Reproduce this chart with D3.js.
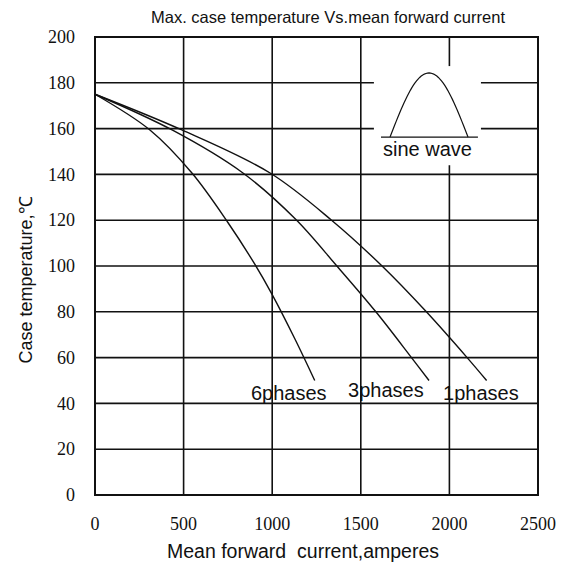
<!DOCTYPE html>
<html lang="en">
<head>
    <meta charset="UTF-8">
    <title>Max. case temperature Vs.mean forward current</title>
    <script src="https://d3js.org/d3.v7.min.js"></script>
    <style>
        body { margin: 0; background: #fff; }
        text { white-space: pre; }
    </style>
</head>
<body>
<script>
    // axis ticks
    var xTicks = [0, 500, 1000, 1500, 2000, 2500];
    var yTicks = [0, 20, 40, 60, 80, 100, 120, 140, 160, 180, 200];

    // curves: [current A, case temperature C]
    var phase6 = [[0, 175], [310, 159.4], [547, 140.6], [750, 119], [900, 101], [1000, 87.5], [1129, 68], [1240, 50]];
    var phase3 = [[0, 175], [435, 159.4], [835, 140.6], [1131, 120.5], [1365, 100], [1585, 80], [1786, 60], [1885, 50]];
    var phase1 = [[0, 175], [490, 159.4], [988, 140.6], [1335, 120], [1620, 100], [1870, 80], [2100, 60], [2210, 50]];
    var curveNames = ['6phases', '3phases', '1phases'];
    // label anchor points [current, temperature]
    var labelPos = [[880, 41.5], [1428, 42.8], [1964, 41.5]];

    var width = 563, height = 562;
    var margin = {top: 37, right: 25, bottom: 67, left: 95};

    var svg = d3.select('body').append('svg').attr('width', width).attr('height', height);

    var x = d3.scaleLinear().domain([0, 2500]).range([margin.left, width - margin.right]);
    var y = d3.scaleLinear().domain([0, 200]).range([height - margin.bottom, margin.top]);

    var ink = '#111';

    // grid
    svg.append('g').selectAll('line').data(yTicks.slice(1, -1)).enter().append('line')
        .attr('x1', x(0)).attr('x2', x(2500))
        .attr('y1', d => y(d)).attr('y2', d => y(d))
        .attr('stroke', ink).attr('stroke-width', 1.6);
    svg.append('g').selectAll('line').data(xTicks.slice(1, -1)).enter().append('line')
        .attr('y1', y(0)).attr('y2', y(200))
        .attr('x1', d => x(d)).attr('x2', d => x(d))
        .attr('stroke', ink).attr('stroke-width', 1.6);

    // sine wave inset, drawn over the grid
    var inset = svg.append('g');
    inset.append('rect')
        .attr('x', x(1574)).attr('y', y(187.3))
        .attr('width', x(2178) - x(1574)).attr('height', y(144) - y(187.3))
        .attr('fill', '#fff');
    inset.append('line')
        .attr('x1', x(1614)).attr('x2', x(2161))
        .attr('y1', y(156.3)).attr('y2', y(156.3))
        .attr('stroke', ink).attr('stroke-width', 1.2);
    var wave = d3.range(0, 1.0001, 0.02).map(t => [1665 + t * (2105 - 1665), 156.3 + 28 * Math.sin(Math.PI * t)]);
    inset.append('path')
        .attr('d', d3.line().x(d => x(d[0])).y(d => y(d[1]))(wave))
        .attr('fill', 'none').attr('stroke', ink).attr('stroke-width', 1.2);
    inset.append('text')
        .attr('x', x(1625)).attr('y', y(148))
        .attr('font-family', 'Arial, "Liberation Sans", sans-serif')
        .attr('font-size', '20px').attr('fill', ink)
        .text('sine wave');

    // plot frame
    svg.append('rect')
        .attr('x', x(0)).attr('y', y(200))
        .attr('width', x(2500) - x(0)).attr('height', y(0) - y(200))
        .attr('fill', 'none').attr('stroke', ink).attr('stroke-width', 2);

    // curves
    var line = d3.line().x(d => x(d[0])).y(d => y(d[1])).curve(d3.curveCatmullRom.alpha(0.5));
    svg.append('g').selectAll('path').data([phase6, phase3, phase1]).enter().append('path')
        .attr('d', line)
        .attr('fill', 'none').attr('stroke', ink).attr('stroke-width', 1.4);

    svg.append('g').selectAll('text').data(curveNames).enter().append('text')
        .attr('x', (d, i) => x(labelPos[i][0]))
        .attr('y', (d, i) => y(labelPos[i][1]))
        .attr('font-family', 'Arial, "Liberation Sans", sans-serif')
        .attr('font-size', '20px').attr('fill', ink)
        .text(d => d);

    // tick labels
    var serif = '"Liberation Serif", "Times New Roman", serif';
    svg.append('g').selectAll('text').data(yTicks).enter().append('text')
        .attr('x', margin.left - 20).attr('y', d => y(d)).attr('dy', '0.34em')
        .attr('text-anchor', 'end')
        .attr('font-family', serif).attr('font-size', '18px').attr('fill', ink)
        .text(d => d);
    svg.append('g').selectAll('text').data(xTicks).enter().append('text')
        .attr('x', d => x(d)).attr('y', 530)
        .attr('text-anchor', 'middle')
        .attr('font-family', serif).attr('font-size', '18px').attr('fill', ink)
        .text(d => d);

    // titles
    var sans = 'Arial, "Liberation Sans", sans-serif';
    svg.append('text')
        .attr('x', 328).attr('y', 23).attr('text-anchor', 'middle')
        .attr('font-family', sans).attr('font-size', '16.5px').attr('fill', ink)
        .text('Max. case temperature Vs.mean forward current');
    svg.append('text')
        .attr('x', 303).attr('y', 558).attr('text-anchor', 'middle')
        .attr('font-family', sans).attr('font-size', '19.5px').attr('fill', ink)
        .text('Mean forward  current,amperes');
    svg.append('text')
        .attr('transform', 'translate(32,280) rotate(-90)').attr('text-anchor', 'middle')
        .attr('font-family', sans).attr('font-size', '18px').attr('fill', ink)
        .text('Case temperature,℃');
</script>
</body>
</html>
